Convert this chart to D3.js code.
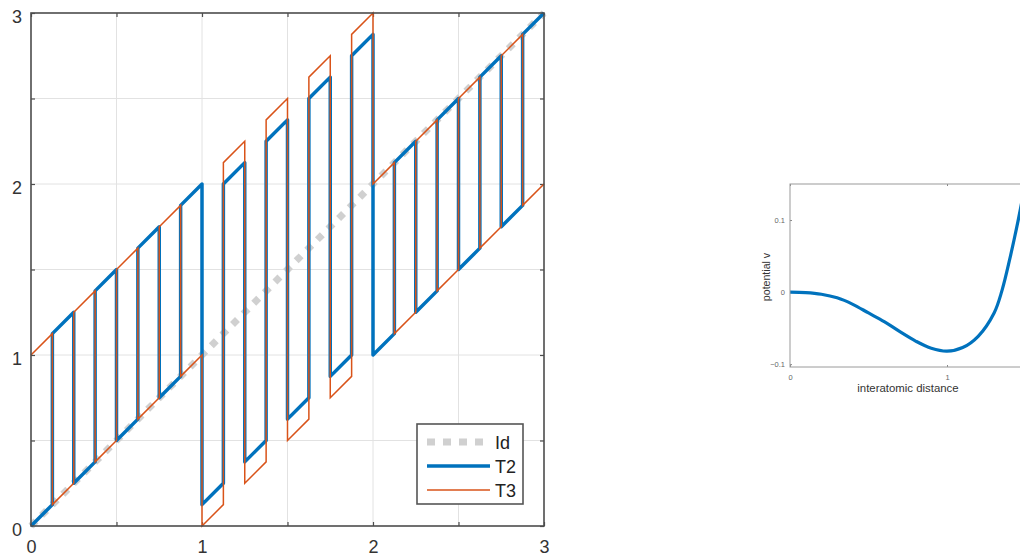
<!DOCTYPE html>
<html>
<head>
<meta charset="utf-8">
<script src="https://cdn.jsdelivr.net/npm/d3@7"></script>
<style>
  body { margin: 0; background: #fff; }
  svg { display: block; font-family: "Liberation Sans", Arial, sans-serif; }
</style>
</head>
<body>
<script>
// identity line
var idX = [0, 3];
var idY = [0, 3];

// T2 breakpoints (repeated x = vertical jump)
var t2X = [0, 0.125, 0.125, 0.25, 0.25, 0.375, 0.375, 0.5, 0.5, 0.625, 0.625, 0.75, 0.75, 0.875, 0.875, 1,
           1, 1.125, 1.125, 1.25, 1.25, 1.375, 1.375, 1.5, 1.5, 1.625, 1.625, 1.75, 1.75, 1.875, 1.875, 2,
           2, 2.125, 2.125, 2.25, 2.25, 2.375, 2.375, 2.5, 2.5, 2.625, 2.625, 2.75, 2.75, 2.875, 2.875, 3];
var t2Y = [0, 0.125, 1.125, 1.25, 0.25, 0.375, 1.375, 1.5, 0.5, 0.625, 1.625, 1.75, 0.75, 0.875, 1.875, 2,
           0.125, 0.25, 2, 2.125, 0.375, 0.5, 2.25, 2.375, 0.625, 0.75, 2.5, 2.625, 0.875, 1, 2.75, 2.875,
           1, 1.125, 2.125, 2.25, 1.25, 1.375, 2.375, 2.5, 1.5, 1.625, 2.625, 2.75, 1.75, 1.875, 2.875, 3];

// T3 breakpoints
var t3X = [0, 0.125, 0.125, 0.25, 0.25, 0.375, 0.375, 0.5, 0.5, 0.625, 0.625, 0.75, 0.75, 0.875, 0.875, 1,
           1, 1.125, 1.125, 1.25, 1.25, 1.375, 1.375, 1.5, 1.5, 1.625, 1.625, 1.75, 1.75, 1.875, 1.875, 2,
           2, 2.125, 2.125, 2.25, 2.25, 2.375, 2.375, 2.5, 2.5, 2.625, 2.625, 2.75, 2.75, 2.875, 2.875, 3];
var t3Y = [1, 1.125, 0.125, 0.25, 1.25, 1.375, 0.375, 0.5, 1.5, 1.625, 0.625, 0.75, 1.75, 1.875, 0.875, 1,
           0, 0.125, 2.125, 2.25, 0.25, 0.375, 2.375, 2.5, 0.5, 0.625, 2.625, 2.75, 0.75, 0.875, 2.875, 3,
           2, 2.125, 1.125, 1.25, 2.25, 2.375, 1.375, 1.5, 2.5, 2.625, 1.625, 1.75, 2.75, 2.875, 1.875, 2];

var mainTicks = [0, 0.5, 1, 1.5, 2, 2.5, 3];
var legendNames = ["Id", "T2", "T3"];

// inset: potential curve
var potX = [0, 0.1, 0.2, 0.3, 0.4, 0.5, 0.6, 0.7, 0.8, 0.9, 1.0, 1.1, 1.2, 1.3, 1.35, 1.4, 1.45, 1.5];
var potV = [0, -0.0007, -0.003, -0.008, -0.017, -0.029, -0.041, -0.055, -0.068, -0.078, -0.082, -0.077, -0.061, -0.029, 0.002, 0.046, 0.096, 0.152];
var insetXTicks = [0, 1];
var insetYTicks = [-0.1, 0, 0.1];

var zip = function(xs, ys){ return xs.map(function(d, i){ return [d, ys[i]]; }); };

var svg = d3.select("body").append("svg")
    .attr("width", 1020)
    .attr("height", 557);

// ---------- main plot ----------
var x = d3.scaleLinear().domain([0, 3]).range([31, 544]);
var y = d3.scaleLinear().domain([0, 3]).range([526, 13]);

var grid = svg.append("g");
grid.selectAll(".gx").data(mainTicks.slice(1, -1)).join("line")
    .attr("class", "gx")
    .attr("x1", d => x(d)).attr("x2", d => x(d))
    .attr("y1", y(0)).attr("y2", y(3))
    .attr("stroke", "#e2e2e2").attr("stroke-width", 1);
grid.selectAll(".gy").data(mainTicks.slice(1, -1)).join("line")
    .attr("class", "gy")
    .attr("y1", d => y(d)).attr("y2", d => y(d))
    .attr("x1", x(0)).attr("x2", x(3))
    .attr("stroke", "#e2e2e2").attr("stroke-width", 1);

var fmt = function(d){ return Number.isInteger(d) ? d : ""; };

function styleAxis(g){
  g.select(".domain").remove();
  g.selectAll(".tick line").attr("stroke", "#4d4d4d").attr("stroke-width", 1.2);
  g.selectAll("text").attr("font-size", 18).attr("fill", "#333")
    .attr("font-family", "Liberation Sans, Arial, sans-serif");
}

svg.append("g").attr("transform", "translate(0,526)")
  .call(d3.axisBottom(x).tickValues(mainTicks).tickSize(-4).tickPadding(14).tickFormat(fmt))
  .call(styleAxis);
svg.append("g").attr("transform", "translate(0,13)")
  .call(d3.axisTop(x).tickValues(mainTicks).tickSize(-4).tickFormat(""))
  .call(styleAxis);
svg.append("g").attr("transform", "translate(31,0)")
  .call(d3.axisLeft(y).tickValues(mainTicks).tickSize(-4).tickPadding(9).tickFormat(fmt))
  .call(styleAxis)
  .selectAll("text").attr("dy", "0.5em");
svg.append("g").attr("transform", "translate(544,0)")
  .call(d3.axisRight(y).tickValues(mainTicks).tickSize(-4).tickFormat(""))
  .call(styleAxis);

var line = d3.line().x(d => x(d[0])).y(d => y(d[1]));

svg.append("path").datum(zip(idX, idY))
  .attr("d", line).attr("fill", "none")
  .attr("stroke", "#d0d0d0").attr("stroke-width", 7)
  .attr("stroke-dasharray", "7,8");

svg.append("path").datum(zip(t2X, t2Y))
  .attr("d", line).attr("fill", "none")
  .attr("stroke", "#0072bd").attr("stroke-width", 3.5)
  .attr("stroke-linejoin", "round");

svg.append("path").datum(zip(t3X, t3Y))
  .attr("d", line).attr("fill", "none")
  .attr("stroke", "#d95319").attr("stroke-width", 1.5);

// box
svg.append("rect")
  .attr("x", x(0)).attr("y", y(3))
  .attr("width", x(3) - x(0)).attr("height", y(0) - y(3))
  .attr("fill", "none").attr("stroke", "#4d4d4d").attr("stroke-width", 1.6);

// legend
var leg = svg.append("g").attr("transform", "translate(417,424)");
leg.append("rect").attr("width", 106).attr("height", 80)
  .attr("fill", "#fff").attr("stroke", "#555").attr("stroke-width", 1.6);
var legStyle = [
  {c: "#d0d0d0", w: 7, dash: "8,8"},
  {c: "#0072bd", w: 3.5, dash: null},
  {c: "#d95319", w: 1.5, dash: null}
];
var rows = leg.selectAll(".row").data(legendNames).join("g")
  .attr("transform", (d, i) => "translate(0," + (18 + i * 24) + ")");
rows.append("line")
  .attr("x1", 10).attr("x2", 73).attr("y1", 0).attr("y2", 0)
  .attr("stroke", (d, i) => legStyle[i].c)
  .attr("stroke-width", (d, i) => legStyle[i].w)
  .attr("stroke-dasharray", (d, i) => legStyle[i].dash);
rows.append("text")
  .attr("x", 78).attr("y", 6.5)
  .attr("font-size", 18).attr("fill", "#222")
  .text(d => d);

// ---------- inset ----------
var ix = d3.scaleLinear().domain([0, 1.5]).range([790, 1025.5]);
var iy = d3.scaleLinear().domain([-0.104, 0.15]).range([367, 184]);

svg.append("defs").append("clipPath").attr("id", "iclip")
  .append("rect").attr("x", 790).attr("y", 184).attr("width", 235.5).attr("height", 183);

function styleInset(g){
  g.select(".domain").remove();
  g.selectAll(".tick line").attr("stroke", "#888");
  g.selectAll("text").attr("font-size", 7.5).attr("fill", "#666");
}

svg.append("g").attr("transform", "translate(0,367)")
  .call(d3.axisBottom(ix).tickValues(insetXTicks).tickSize(-2).tickPadding(8).tickFormat(d3.format("d")))
  .call(styleInset);
svg.append("g").attr("transform", "translate(0,184)")
  .call(d3.axisTop(ix).tickValues(insetXTicks).tickSize(-2).tickFormat(""))
  .call(styleInset);
svg.append("g").attr("transform", "translate(790,0)")
  .call(d3.axisLeft(iy).tickValues(insetYTicks).tickSize(-2).tickPadding(5).tickFormat(d => d === 0 ? "0" : d3.format(".1f")(d)))
  .call(styleInset);

svg.append("path").datum(zip(potX, potV))
  .attr("clip-path", "url(#iclip)")
  .attr("d", d3.line().x(d => ix(d[0])).y(d => iy(d[1])).curve(d3.curveCatmullRom))
  .attr("fill", "none").attr("stroke", "#0072bd").attr("stroke-width", 3.2);

svg.append("rect")
  .attr("x", 790).attr("y", 184).attr("width", 235.5).attr("height", 183)
  .attr("fill", "none").attr("stroke", "#9a9a9a").attr("stroke-width", 1);

svg.append("text")
  .attr("x", 908).attr("y", 392)
  .attr("text-anchor", "middle").attr("font-size", 11.4).attr("fill", "#333")
  .text("interatomic distance");
svg.append("text")
  .attr("transform", "translate(770,277) rotate(-90)")
  .attr("text-anchor", "middle").attr("font-size", 10.6).attr("fill", "#333")
  .text("potential v");
</script>
</body>
</html>
